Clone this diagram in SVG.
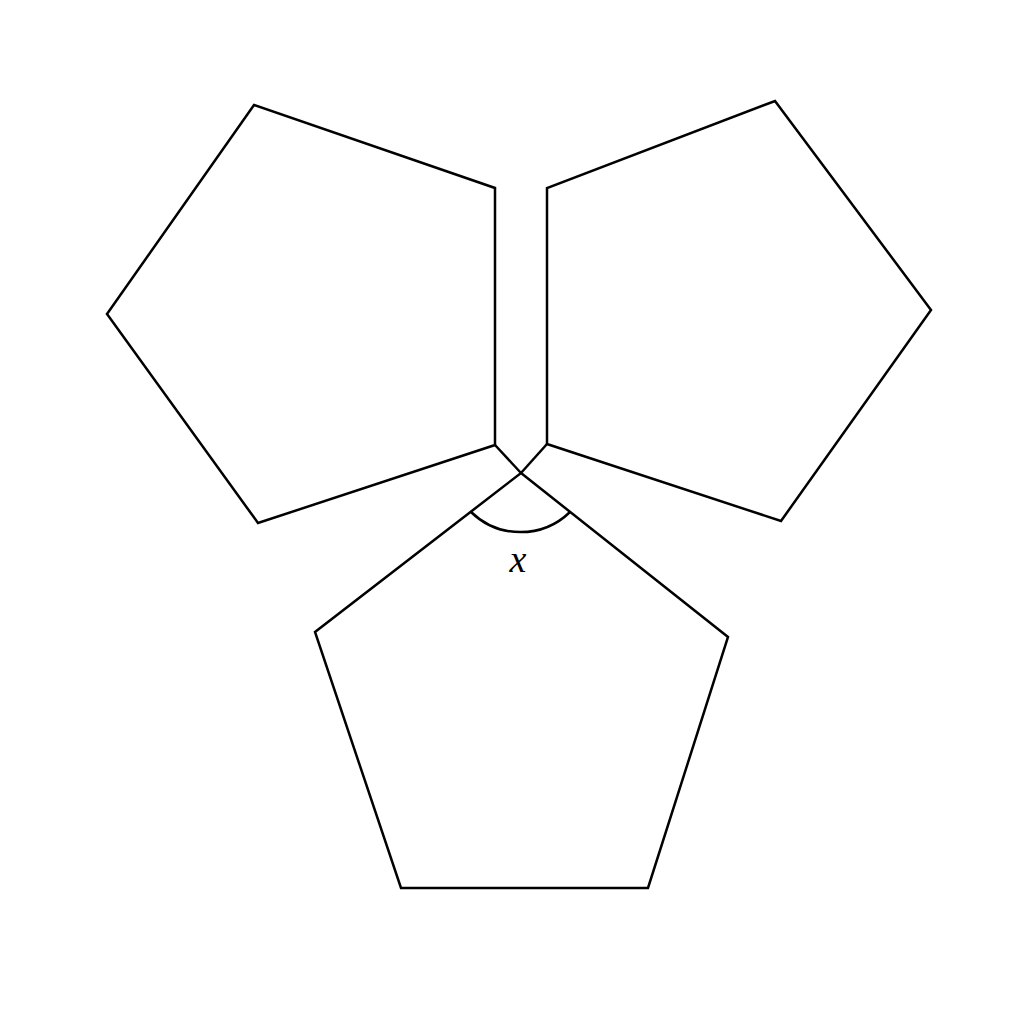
<svg xmlns="http://www.w3.org/2000/svg" width="1024" height="1024" viewBox="0 0 1024 1024">
<style>
.p{fill:none;stroke:#000;stroke-width:2.5;stroke-linejoin:miter}
.lbl{font-family:"Liberation Serif","DejaVu Serif",serif;font-style:italic;font-size:38px;fill:#000}
</style>
<rect width="1024" height="1024" fill="#fff"/>
<g id="left-pentagon"><polygon class="p" points="254,105 495,188 495,445 258,523 107,314"/></g>
<g id="right-pentagon"><polygon class="p" points="775,101 931,310 781,521 547,444 547,188"/></g>
<g id="bottom-pentagon"><polygon class="p" points="521,473 728,637 648,888 401,888 315,632"/></g>
<g id="connectors">
<line class="p" x1="495" y1="445" x2="521" y2="473"/>
<line class="p" x1="547" y1="444" x2="521" y2="473"/>
<path class="p" d="M471,512 A71,71 0 0 0 570,512"/>
</g>
<g id="label-x"><text class="lbl" x="518" y="572" text-anchor="middle">x</text></g>
</svg>
